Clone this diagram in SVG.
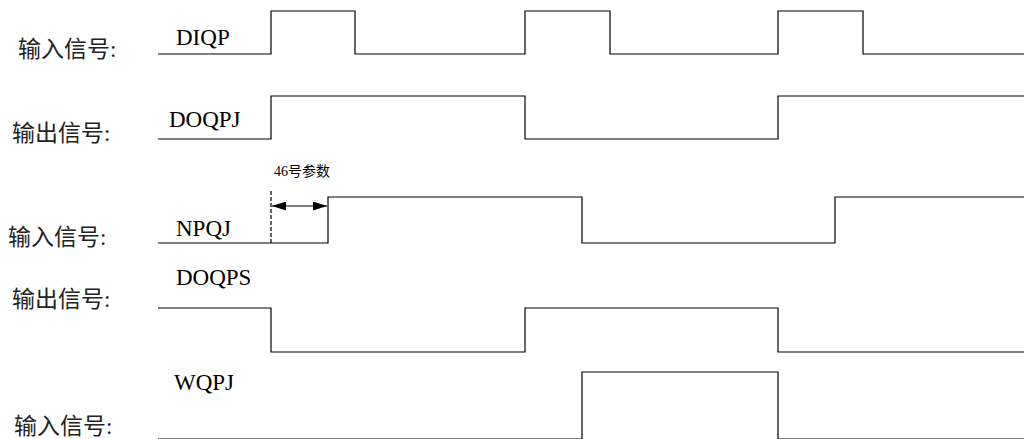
<svg xmlns="http://www.w3.org/2000/svg" width="1024" height="439" viewBox="0 0 1024 439">
<style>
.cn{font-family:"Liberation Serif","Noto Sans CJK SC",serif;font-size:23px;fill:#222}
.nm{font-family:"Liberation Serif",serif;font-size:23px;fill:#000}
.sm{font-family:"Liberation Serif","Noto Sans CJK SC",serif;font-size:14px;fill:#000}
.w{fill:none;stroke:#000;stroke-width:1.2}
</style>
<defs>
<marker id="ah" markerWidth="14" markerHeight="9" refX="14" refY="4.5" orient="auto-start-reverse" markerUnits="userSpaceOnUse">
<path d="M0,0 L14,4.5 L0,9 Z" fill="#000"/>
</marker>
</defs>
<rect width="1024" height="439" fill="#fff"/>
<g id="row1">
<text class="cn" x="18" y="57">输入信号:</text>
<text class="nm" x="176" y="45">DIQP</text>
<path class="w" d="M158,54 H271 V11 H355 V54 H525 V11 H610 V54 H778 V11 H863 V54 H1024"/>
</g>
<g id="row2">
<text class="cn" x="12" y="141">输出信号:</text>
<text class="nm" x="169" y="127">DOQPJ</text>
<path class="w" d="M158,139 H271 V96 H525 V139 H778 V96 H1024"/>
</g>
<g id="row3">
<text class="cn" x="8" y="245">输入信号:</text>
<text class="nm" x="176" y="236">NPQJ</text>
<path class="w" d="M158,243 H328 V197 H582 V243 H835 V197 H1024"/>
</g>
<g id="row4">
<text class="cn" x="12" y="307">输出信号:</text>
<text class="nm" x="176" y="285">DOQPS</text>
<path class="w" d="M158,308 H271 V352 H525 V308 H778 V352 H1024"/>
</g>
<g id="row5">
<text class="cn" x="14" y="434">输入信号:</text>
<text class="nm" x="174" y="390">WQPJ</text>
<path class="w" d="M158,439 H582 V372 H778 V439 H1024"/>
</g>
<g id="connectors">
<line x1="271" y1="191" x2="271" y2="243" stroke="#000" stroke-width="1.2" stroke-dasharray="4,2"/>
<line x1="272" y1="206" x2="327" y2="206" stroke="#000" stroke-width="1.2" marker-start="url(#ah)" marker-end="url(#ah)"/>
<text class="sm" x="274" y="176">46号参数</text>
</g>
</svg>
